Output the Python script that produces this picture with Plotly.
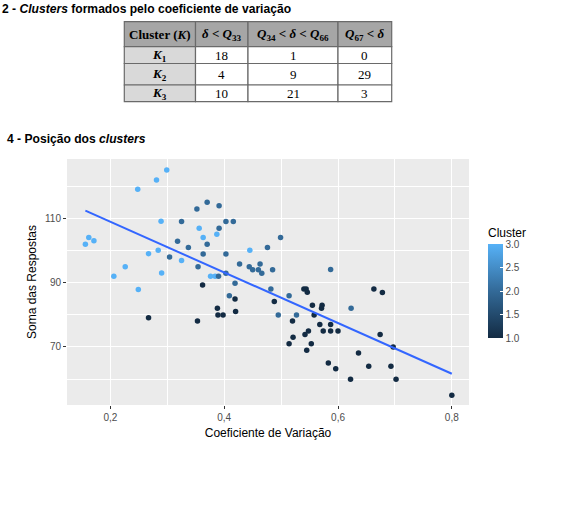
import numpy as np
import plotly.graph_objects as go

# ---------------- data ----------------
table_header = ["Cluster (<i>K</i>)",
                "<i>δ</i> < <i>Q</i><sub>33</sub>",
                "<i>Q</i><sub>34</sub> < <i>δ</i> < <i>Q</i><sub>66</sub>",
                "<i>Q</i><sub>67</sub> < <i>δ</i>"]
table_rows = ["<i>K</i><sub>1</sub>", "<i>K</i><sub>2</sub>", "<i>K</i><sub>3</sub>"]
col_q33 = [18, 4, 10]
col_q34_66 = [1, 9, 21]
col_q67 = [0, 29, 3]

cv_c3 = [0.299, 0.281, 0.248, 0.289, 0.356, 0.387, 0.363, 0.162, 0.171, 0.156,
         0.284, 0.445, 0.267, 0.325, 0.226, 0.206, 0.290, 0.376, 0.384, 0.249]
soma_c3 = [125.0, 121.9, 119.0, 109.1, 106.9, 105.0, 104.0, 104.0, 103.0, 101.9,
           100.1, 100.1, 99.0, 96.9, 94.9, 92.0, 93.0, 92.0, 92.0, 87.9]

cv_c2 = [0.370, 0.391, 0.352, 0.325, 0.403, 0.416, 0.391, 0.499, 0.318, 0.370,
         0.337, 0.476, 0.363, 0.403, 0.304, 0.427, 0.463, 0.444, 0.450, 0.460,
         0.354, 0.466, 0.485, 0.587, 0.390, 0.403, 0.419, 0.409, 0.482, 0.514,
         0.495, 0.527, 0.623]
soma_c2 = [115.0, 113.9, 112.9, 109.0, 109.0, 109.0, 106.9, 104.0, 102.9, 101.9,
           100.9, 100.9, 98.9, 98.9, 98.0, 95.8, 95.8, 94.9, 94.0, 94.0,
           94.9, 92.9, 94.0, 94.1, 92.0, 92.9, 89.8, 85.9, 88.0, 85.9,
           79.9, 79.9, 82.0]

cv_c1 = [0.362, 0.419, 0.488, 0.388, 0.389, 0.398, 0.420, 0.353, 0.267, 0.540,
         0.544, 0.546, 0.555, 0.572, 0.571, 0.558, 0.520, 0.568, 0.587, 0.548,
         0.574, 0.587, 0.600, 0.542, 0.521, 0.514, 0.553, 0.545, 0.636, 0.583,
         0.596, 0.654, 0.693, 0.622, 0.702, 0.663, 0.678, 0.674, 0.697, 0.800]
soma_c1 = [89.3, 84.9, 84.1, 82.0, 79.9, 79.9, 81.0, 78.1, 79.1, 88.0,
           88.0, 87.0, 83.0, 83.0, 82.0, 79.9, 78.1, 77.0, 77.0, 75.0,
           75.0, 75.0, 75.0, 73.9, 73.0, 71.0, 71.0, 69.0, 68.1, 65.0,
           63.2, 64.0, 64.0, 60.0, 60.0, 88.0, 86.9, 73.9, 70.0, 55.0]

x_tick_vals = [0.2, 0.4, 0.6, 0.8]
x_tick_text = ["0,2", "0,4", "0,6", "0,8"]
y_tick_vals = [70, 90, 110]
cb_tick_vals = [1.0, 1.5, 2.0, 2.5, 3.0]
cb_tick_text = ["1.0", "1.5", "2.0", "2.5", "3.0"]

# ---------------- build ----------------
cv = np.array(cv_c3 + cv_c2 + cv_c1)
soma = np.array(soma_c3 + soma_c2 + soma_c1)
cluster = np.array([3] * len(cv_c3) + [2] * len(cv_c2) + [1] * len(cv_c1))

slope, intercept = np.polyfit(cv, soma, 1)
fit_x = np.array([cv.min(), cv.max()])
fit_y = intercept + slope * fit_x

W, H = 565, 530
def px(x):
    return x / W
def py(y):
    return 1 - y / H

colorscale = [[0.0, "#132B43"], [0.5, "#336A98"], [1.0, "#56B1F7"]]

# ---- table drawn with shapes + annotations (layout geometry in pixels) ----
col_edges = [124.3, 195.5, 248.0, 338.0, 391.7]
row_edges = [21.7, 46.7, 63.5, 85.0, 101.7]
body_cols = [[("<b>" + r + "</b>") for r in table_rows],
             [str(v) for v in col_q33],
             [str(v) for v in col_q34_66],
             [str(v) for v in col_q67]]

shapes = []
annotations = []
line_col = "#6a6a6a"
n_rows = len(table_rows) + 1
n_cols = len(table_header)
for r in range(n_rows):
    for c in range(n_cols):
        if r == 0:
            fill = "#a6a6a6"
            txt = "<b>" + table_header[c] + "</b>"
        else:
            fill = "#d9d9d9" if c == 0 else "white"
            txt = body_cols[c][r - 1]
        x0, x1 = col_edges[c], col_edges[c + 1]
        y0, y1 = row_edges[r], row_edges[r + 1]
        shapes.append(dict(type="rect", xref="paper", yref="paper",
                           x0=px(x0), x1=px(x1), y0=py(y1), y1=py(y0),
                           fillcolor=fill, line=dict(color=line_col, width=1.2),
                           layer="above"))
        annotations.append(dict(text=txt, xref="paper", yref="paper",
                                x=px((x0 + x1) / 2), y=py((y0 + y1) / 2 + 0.5),
                                xanchor="center", yanchor="middle", showarrow=False,
                                font=dict(family="Liberation Serif", size=13, color="black")))

annotations += [
    dict(text="<b>2 - <i>Clusters</i> formados pelo coeficiente de variação</b>",
         xref="paper", yref="paper", x=px(0), y=py(8.5),
         xanchor="left", yanchor="middle", showarrow=False,
         font=dict(family="Liberation Sans", size=12.1, color="black")),
    dict(text="<b>4 - Posição dos <i>clusters</i></b>",
         xref="paper", yref="paper", x=px(5), y=py(138.5),
         xanchor="left", yanchor="middle", showarrow=False,
         font=dict(family="Liberation Sans", size=12.1, color="black")),
]

fig = go.Figure()

fig.add_trace(go.Scatter(
    x=cv, y=soma, mode="markers",
    marker=dict(
        size=5.5, color=cluster, colorscale=colorscale, cmin=1, cmax=3,
        line=dict(width=0),
        colorbar=dict(
            title=dict(text="Cluster", side="top",
                       font=dict(family="Liberation Sans", size=12, color="black")),
            x=px(488), xanchor="left", xpad=0,
            y=py(225), yanchor="top", ypad=0,
            thickness=15, thicknessmode="pixels",
            len=113, lenmode="pixels",
            outlinewidth=0,
            tickvals=cb_tick_vals, ticktext=cb_tick_text,
            ticks="inside", tickcolor="white", ticklen=3, tickwidth=1,
            tickfont=dict(family="Liberation Sans", size=10, color="#4d4d4d"),
        ),
    ),
    showlegend=False, hoverinfo="skip",
))

fig.add_trace(go.Scatter(
    x=fit_x, y=fit_y, mode="lines",
    line=dict(color="#3366FF", width=2),
    showlegend=False, hoverinfo="skip",
))

fig.update_layout(
    width=W, height=H,
    margin=dict(l=0, r=0, t=0, b=0),
    paper_bgcolor="white",
    plot_bgcolor="#EBEBEB",
    font=dict(family="Liberation Sans", color="#4d4d4d"),
    xaxis=dict(
        domain=[px(67), px(469)], range=[0.1237, 0.8302],
        tickvals=x_tick_vals, ticktext=x_tick_text,
        showgrid=True, gridcolor="white", gridwidth=1.1,
        minor=dict(dtick=0.1, tick0=0.1, showgrid=True, gridcolor="white", gridwidth=0.5),
        zeroline=False, showline=False,
        ticks="outside", ticklen=3, tickcolor="#333333", tickwidth=1,
        tickfont=dict(size=10, color="#4d4d4d"),
        title=dict(text="Coeficiente de Variação", standoff=6,
                   font=dict(size=12, color="black")),
    ),
    yaxis=dict(
        domain=[py(405), py(159)], range=[51.96, 128.43],
        tickvals=y_tick_vals,
        showgrid=True, gridcolor="white", gridwidth=1.1,
        minor=dict(dtick=10, tick0=60, showgrid=True, gridcolor="white", gridwidth=0.5),
        zeroline=False, showline=False,
        ticks="outside", ticklen=3, tickcolor="#333333", tickwidth=1,
        tickfont=dict(size=10, color="#4d4d4d"),
        title=dict(text="Soma das Respostas", standoff=5,
                   font=dict(size=12, color="black")),
    ),
    shapes=shapes,
    annotations=annotations,
)

fig.write_html("out.html")
